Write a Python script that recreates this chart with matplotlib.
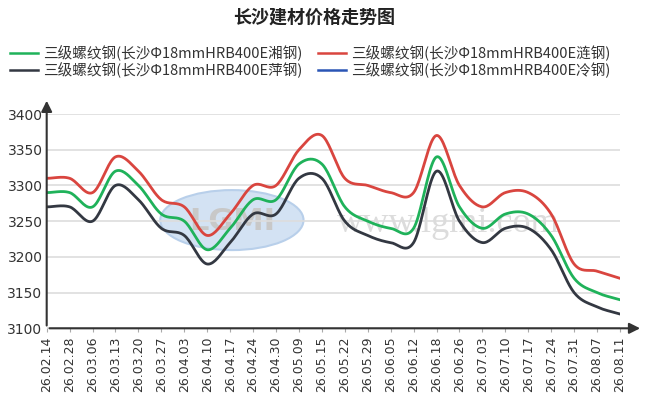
import numpy as np
import matplotlib
matplotlib.use('Agg')
import matplotlib.pyplot as plt
from matplotlib.patches import Ellipse

# --- DATOS ---
fechas = ['26.02.14', '26.02.28', '26.03.06', '26.03.13', '26.03.20', '26.03.27',
          '26.04.03', '26.04.10', '26.04.17', '26.04.24', '26.04.30', '26.05.09',
          '26.05.15', '26.05.22', '26.05.29', '26.06.05', '26.06.12', '26.06.18',
          '26.06.26', '26.07.03', '26.07.10', '26.07.17', '26.07.24', '26.07.31',
          '26.08.07', '26.08.11']
xiang = [3290, 3290, 3270, 3320, 3300, 3260, 3250, 3210, 3240, 3280, 3280, 3330, 3330,
         3270, 3250, 3240, 3240, 3340, 3270, 3240, 3260, 3260, 3230, 3170, 3150, 3140]
lian = [3310, 3310, 3290, 3340, 3320, 3280, 3270, 3230, 3260, 3300, 3300, 3350, 3370,
        3310, 3300, 3290, 3290, 3370, 3300, 3270, 3290, 3290, 3260, 3190, 3180, 3170]
ping = [3270, 3270, 3250, 3300, 3280, 3240, 3230, 3190, 3220, 3260, 3260, 3310, 3310,
        3250, 3230, 3220, 3220, 3320, 3250, 3220, 3240, 3240, 3210, 3150, 3130, 3120]
leng = []  # 冷钢: sin datos visibles en el gráfico

etiquetas = ['三级螺纹钢(长沙Φ18mmHRB400E湘钢)', '三级螺纹钢(长沙Φ18mmHRB400E涟钢)',
             '三级螺纹钢(长沙Φ18mmHRB400E萍钢)', '三级螺纹钢(长沙Φ18mmHRB400E冷钢)']
colores = ['#1fb25a', '#d9453f', '#333842', '#2a55b5']

plt.rcParams['font.family'] = ['Noto Sans CJK SC', 'DejaVu Sans']


def suavizar(vals, pasos=20):
    """Curva Catmull-Rom entre los puntos"""
    y = np.asarray(vals, dtype=float)
    if len(y) < 2:
        return np.arange(len(y)), y
    n = len(y)
    m = np.zeros(n)
    m[1:-1] = (y[2:] - y[:-2]) / 2
    m[0] = y[1] - y[0]
    m[-1] = y[-1] - y[-2]
    xs, ys = [], []
    for i in range(n - 1):
        t = np.linspace(0, 1, pasos, endpoint=False)
        h00 = 2*t**3 - 3*t**2 + 1
        h10 = t**3 - 2*t**2 + t
        h01 = -2*t**3 + 3*t**2
        h11 = t**3 - t**2
        xs.append(i + t)
        ys.append(h00*y[i] + h10*m[i] + h01*y[i+1] + h11*m[i+1])
    xs.append([n - 1])
    ys.append([y[-1]])
    return np.concatenate(xs), np.concatenate(ys)


fig = plt.figure(figsize=(6.45, 4.16), dpi=100)
ax = fig.add_axes([0.0724, 0.2108, 0.8888, 0.5151])

# marca de agua
ax.add_patch(Ellipse((0.323, 0.505), 0.25, 0.28, transform=ax.transAxes,
                     facecolor='#d3e2f3', edgecolor='#b8cfea', lw=1.5, zorder=0))
ax.text(0.323, 0.5, 'LGMI', transform=ax.transAxes, ha='center', va='center',
        fontsize=22, weight='bold', color='#c8c8c8', family='DejaVu Sans', zorder=0)
ax.text(0.70, 0.49, 'www.lgmi.com', transform=ax.transAxes, ha='center', va='center',
        fontsize=26, color='#dcdcdc', family='Liberation Serif', zorder=0)

lineas = []
for serie, lab, col in zip([xiang, lian, ping, leng], etiquetas, colores):
    xs, ys = suavizar(serie)
    ln, = ax.plot(xs, ys, color=col, lw=2, label=lab, zorder=3)
    lineas.append(ln)

ax.set_xlim(0, len(fechas) - 1)
ax.set_ylim(3100, 3400)
ax.set_yticks(range(3100, 3401, 50))
ax.set_xticks(range(len(fechas)))
ax.set_xticklabels(fechas, rotation=90, family='DejaVu Sans', fontsize=9, color='#333333')
for lbl in ax.get_yticklabels():
    lbl.set_family('DejaVu Sans')
    lbl.set_fontsize(10)
    lbl.set_color('#333333')
ax.tick_params(axis='x', length=3, color='#aaaaaa', pad=3)
ax.tick_params(axis='y', length=0, pad=3)
ax.grid(axis='y', color='#dddddd', lw=1.2, zorder=1)

for s in ax.spines.values():
    s.set_visible(False)

# ejes con flecha
ax.annotate('', xy=(0, 1.075), xytext=(0, 0), xycoords='axes fraction',
            arrowprops=dict(arrowstyle='-|>', color='#333333', lw=1.5, mutation_scale=16),
            annotation_clip=False)
ax.annotate('', xy=(1.04, 0), xytext=(0, 0), xycoords='axes fraction',
            arrowprops=dict(arrowstyle='-|>', color='#333333', lw=1.5, mutation_scale=16),
            annotation_clip=False)

fig.text(314/645, 1 - 17/416, '长沙建材价格走势图', ha='center', va='center',
         fontsize=13, weight='bold', color='#222222')

orden = [lineas[0], lineas[2], lineas[1], lineas[3]]
leg = fig.legend(handles=orden, labels=[l.get_label() for l in orden], loc='upper left',
                 bbox_to_anchor=(10/645, 1 - 45/416), ncol=2, frameon=False, fontsize=10.5,
                 handlelength=1.9, handletextpad=0.35, columnspacing=1.1, labelspacing=0.1,
                 borderpad=0, borderaxespad=0, labelcolor='#333333')
for h in leg.legend_handles:
    h.set_linewidth(1.8)

fig.savefig('out.png', dpi=100)
